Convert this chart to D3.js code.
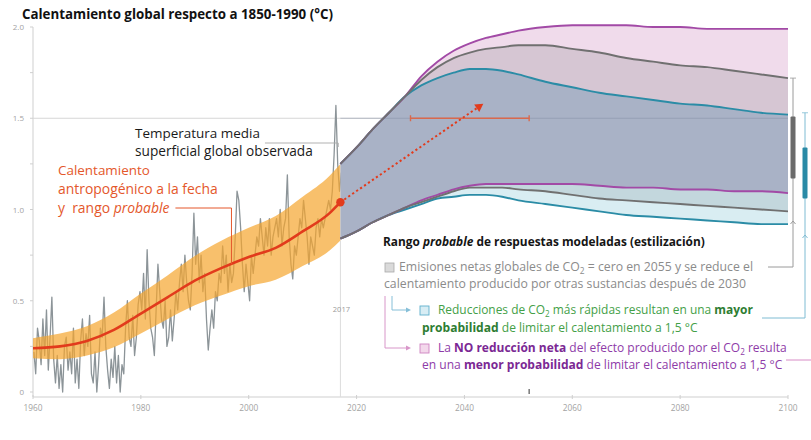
<!DOCTYPE html>
<html>
<head>
<meta charset="utf-8">
<script src="https://cdn.jsdelivr.net/npm/d3@7"></script>
<style>
  body { margin: 0; background: #fff; }
  svg { display: block; font-family: "Open Sans", Lato, sans-serif; }
</style>
</head>
<body>
<svg id="chart" width="811" height="440"></svg>
<script>
// ---- Observed global mean surface temperature (°C, relative to 1850-1900), 3 samples per year from 1960
const obsStart = 1960;
const obsPerYear = 3;
const observed = [
  0.22, 0.10, 0.35,  0.28, 0.15, 0.40,  0.20, 0.45, 0.12,  0.30, 0.52, 0.18,
  0.05, 0.20, 0.02,  0.15, 0.00, 0.25,  0.30, 0.12, 0.22,  0.10, 0.35, 0.05,
  0.18, 0.02, 0.28,  0.40, 0.20, 0.32,  0.25, 0.42, 0.10,  0.05, 0.22, 0.00,
  0.15, 0.35, 0.30,  0.52, 0.25, 0.12,  0.02, 0.18, 0.08,  0.25, 0.05, 0.20,
  0.00, 0.15, 0.10,  0.35, 0.50, 0.30,  0.25, 0.42, 0.20,  0.30, 0.48, 0.55,
  0.45, 0.65, 0.40,  0.78, 0.50, 0.35,  0.30, 0.20, 0.45,  0.70, 0.55, 0.40,
  0.35, 0.50, 0.25,  0.30, 0.45, 0.28,  0.40, 0.55, 0.45,  0.60, 0.70, 0.55,
  0.75, 0.60, 0.50,  0.45, 0.65, 0.98,  0.70, 0.85, 0.60,  0.75, 0.55, 0.65,
  0.40, 0.23, 0.35,  0.45, 0.35, 0.55,  0.50, 0.65, 0.60,  0.80, 0.65, 0.75,
  0.55, 0.70, 0.60,  0.65, 0.85, 1.10,  1.05, 0.90, 0.70,  0.55, 0.70, 0.60,
  0.50, 0.75, 0.65,  0.75, 0.85, 0.80,  0.95, 0.85, 0.75,  0.90, 0.80, 0.95,
  0.75, 0.85, 0.90,  0.95, 0.85, 1.00,  0.80, 0.90, 0.95,  1.19, 0.85, 0.70,
  0.62, 0.80, 0.75,  0.85, 0.95, 0.90,  1.05, 0.95, 0.85,  0.70, 0.85, 0.80,
  0.75, 0.90, 0.95,  0.85, 0.95, 0.90,  0.95, 1.00, 1.05,  1.00, 1.10, 1.30,
  1.57, 1.25, 1.10,  1.20, 1.10, 1.15
];

// ---- Human-induced warming to date and its likely range
const warmYears = [1960, 1965, 1970, 1975, 1980, 1985, 1990, 1995, 2000, 2005, 2010, 2015, 2017];
const warmMid   = [0.24, 0.25, 0.28, 0.34, 0.43, 0.52, 0.61, 0.68, 0.74, 0.79, 0.88, 0.98, 1.04];
const warmLow   = [0.185, 0.18, 0.20, 0.245, 0.32, 0.40, 0.475, 0.53, 0.58, 0.615, 0.69, 0.775, 0.83];
const warmHigh  = [0.295, 0.32, 0.36, 0.435, 0.54, 0.64, 0.745, 0.83, 0.90, 0.965, 1.07, 1.185, 1.25];

// ---- Stylised likely ranges of modelled responses
const fanYears     = [2017, 2020, 2023, 2026, 2029, 2032, 2035, 2038, 2041, 2044, 2047, 2050, 2055, 2060, 2065, 2070, 2075, 2080, 2085, 2090, 2095, 2100];
const purpleTop    = [1.25, 1.34, 1.44, 1.53, 1.62, 1.73, 1.81, 1.87, 1.91, 1.94, 1.96, 1.98, 2.00, 2.01, 2.01, 2.01, 2.00, 2.00, 1.99, 1.99, 1.99, 1.99];
const grayTop      = [1.25, 1.34, 1.44, 1.53, 1.62, 1.71, 1.78, 1.83, 1.86, 1.88, 1.89, 1.90, 1.90, 1.88, 1.86, 1.83, 1.81, 1.79, 1.78, 1.76, 1.74, 1.72];
const tealTop      = [1.25, 1.34, 1.44, 1.53, 1.62, 1.68, 1.72, 1.75, 1.77, 1.77, 1.76, 1.74, 1.70, 1.67, 1.64, 1.62, 1.60, 1.58, 1.57, 1.55, 1.53, 1.52];
const purpleBottom = [0.84, 0.88, 0.93, 0.97, 1.01, 1.05, 1.08, 1.11, 1.13, 1.14, 1.14, 1.14, 1.14, 1.14, 1.13, 1.12, 1.12, 1.11, 1.11, 1.10, 1.10, 1.09];
const grayBottom   = [0.84, 0.88, 0.93, 0.97, 1.01, 1.04, 1.07, 1.10, 1.12, 1.12, 1.12, 1.11, 1.10, 1.08, 1.06, 1.05, 1.04, 1.03, 1.02, 1.01, 1.00, 0.99];
const tealBottom   = [0.84, 0.88, 0.93, 0.97, 1.00, 1.03, 1.06, 1.07, 1.08, 1.08, 1.07, 1.05, 1.03, 1.01, 0.99, 0.97, 0.96, 0.95, 0.94, 0.93, 0.92, 0.92];

// ---- 2100 ranges shown beside the fan
const grayRange2100     = [0.99, 1.72];
const grayCoreRange2100 = [1.17, 1.51];
const tealRange2100     = [0.92, 1.53];
const tealCoreRange2100 = [1.06, 1.34];

// ---- Projection of the current trend and the 1.5 °C crossing window
const presentYear    = 2017;
const presentValue   = 1.04;
const trendEnd       = [2043.5, 1.58];
const crossingYears  = [2030, 2052];
const crossingLevel  = 1.5;

// ---- Axes
const xTicks = [1960, 1980, 2000, 2020, 2040, 2060, 2080, 2100];
const yTicks = [0, 0.5, 1.0, 1.5, 2.0];
const yMinorTicks = [0.25, 0.75, 1.25, 1.75];

// ================================================================
const svg = d3.select("#chart");
const x = d3.scaleLinear().domain([1960, 2100]).range([33, 788]);
const y = d3.scaleLinear().domain([0, 2]).range([392, 27]);
const axisY = 397;

const C = {
  axis: "#cfcfcf", tick: "#a3a3a3",
  obs: "#8c9498", band: "#f5a52e", red: "#e23b1c",
  purple: "#a24aa6", gray: "#707070", teal: "#2b8ca6",
  rPurple: "#f0dbeb", rPurpleGray: "#d6c6d3", rAll: "#a9b2c6",
  rGrayTeal: "#c3d7dd", rTeal: "#d9edf2",
  orangeText: "#e4572b", greenText: "#43a047", greenBold: "#2e7d32",
  purpleText: "#8e3ba8", purpleBold: "#7b2894", legendGray: "#8b8b8b"
};

// scale a text's font size so that it spans the given width
function fit(sel, width) {
  const w = sel.node().getComputedTextLength();
  sel.attr("font-size", +sel.attr("font-size") * width / w);
  return sel;
}

// ---- axes
const gAxes = svg.append("g");
gAxes.append("line").attr("x1", x(1960)).attr("x2", x(1960))
  .attr("y1", y(2)).attr("y2", axisY).attr("stroke", C.axis);
gAxes.append("line").attr("x1", x(1960)).attr("x2", x(2100))
  .attr("y1", axisY).attr("y2", axisY).attr("stroke", C.axis);

gAxes.selectAll(".ymaj").data(yTicks.concat(yMinorTicks)).join("line")
  .attr("x1", x(1960) - 3).attr("x2", x(1960))
  .attr("y1", d => y(d)).attr("y2", d => y(d)).attr("stroke", C.axis);
gAxes.selectAll(".ylab").data(yTicks).join("text")
  .attr("x", 24).attr("y", d => y(d) + 3).attr("text-anchor", "end")
  .attr("font-size", 8).attr("fill", C.tick)
  .text(d => d === 0 ? "0" : d.toFixed(1));

gAxes.selectAll(".xt").data(xTicks).join("line")
  .attr("x1", d => x(d)).attr("x2", d => x(d))
  .attr("y1", axisY - 2).attr("y2", axisY + 2).attr("stroke", C.axis);
gAxes.selectAll(".xlab").data(xTicks).join("text")
  .attr("x", d => x(d)).attr("y", axisY + 14).attr("text-anchor", "middle")
  .attr("font-size", 8.3).attr("fill", C.tick).text(d => d);

// 1.5 °C reference line (under the observations)
svg.append("line").attr("x1", x(1960)).attr("x2", x(2100))
  .attr("y1", y(crossingLevel)).attr("y2", y(crossingLevel))
  .attr("stroke", "#d6d6d6").attr("stroke-width", 1);

// present-day marker line
svg.append("line").attr("x1", x(presentYear)).attr("x2", x(presentYear))
  .attr("y1", y(0.83)).attr("y2", axisY).attr("stroke", "#dcdcdc");
svg.append("text").attr("x", x(presentYear) + 1).attr("y", 312)
  .attr("text-anchor", "middle").attr("font-size", 7.5).attr("fill", "#9a9a9a").text(presentYear);

// ---- observed temperature
const obsLine = d3.line()
  .x((d, i) => x(obsStart + (i + 0.5) / obsPerYear))
  .y(d => y(d));
svg.append("path").datum(observed).attr("d", obsLine)
  .attr("fill", "none").attr("stroke", C.obs).attr("stroke-width", 1.3)
  .attr("stroke-linejoin", "round");

// ---- human-induced warming band and central estimate
const warmIdx = d3.range(warmYears.length);
svg.append("path").datum(warmIdx)
  .attr("d", d3.area().curve(d3.curveMonotoneX)
    .x(i => x(warmYears[i])).y0(i => y(warmLow[i])).y1(i => y(warmHigh[i])))
  .attr("fill", C.band).attr("fill-opacity", 0.7);
svg.append("path").datum(warmIdx)
  .attr("d", d3.line().curve(d3.curveMonotoneX)
    .x(i => x(warmYears[i])).y(i => y(warmMid[i])))
  .attr("fill", "none").attr("stroke", C.red).attr("stroke-width", 2.6);

// ---- modelled response fan
const fanIdx = d3.range(fanYears.length);
const band = (lo, hi) => d3.area().curve(d3.curveMonotoneX)
  .x(i => x(fanYears[i])).y0(i => y(lo[i])).y1(i => y(hi[i]));
const regions = [
  [grayTop, purpleTop, C.rPurple],
  [tealTop, grayTop, C.rPurpleGray],
  [purpleBottom, tealTop, C.rAll],
  [grayBottom, purpleBottom, C.rGrayTeal],
  [tealBottom, grayBottom, C.rTeal]
];
regions.forEach(([lo, hi, col]) => {
  svg.append("path").datum(fanIdx).attr("d", band(lo, hi)).attr("fill", col);
});

// 1.5 °C line seen through the fan
svg.append("line").attr("x1", x(2017)).attr("x2", x(2100))
  .attr("y1", y(crossingLevel)).attr("y2", y(crossingLevel))
  .attr("stroke", "#7d8aa0").attr("stroke-opacity", 0.45).attr("stroke-width", 1);

const edge = arr => d3.line().curve(d3.curveMonotoneX)
  .x(i => x(fanYears[i])).y(i => y(arr[i]));
[[tealTop, C.teal], [tealBottom, C.teal],
 [purpleTop, C.purple], [purpleBottom, C.purple],
 [grayTop, C.gray], [grayBottom, C.gray]].forEach(([arr, col]) => {
  svg.append("path").datum(fanIdx).attr("d", edge(arr))
    .attr("fill", "none").attr("stroke", col).attr("stroke-width", 1.9);
});

// ---- 1.5 °C crossing window
const cw = svg.append("g").attr("stroke", "#d9694d").attr("stroke-width", 1.4);
cw.append("line").attr("x1", x(crossingYears[0])).attr("x2", x(crossingYears[1]))
  .attr("y1", y(crossingLevel)).attr("y2", y(crossingLevel));
crossingYears.forEach(yr => cw.append("line")
  .attr("x1", x(yr)).attr("x2", x(yr))
  .attr("y1", y(crossingLevel) - 3).attr("y2", y(crossingLevel) + 3));
svg.append("line").attr("x1", x(crossingYears[1])).attr("x2", x(crossingYears[1]))
  .attr("y1", axisY - 8).attr("y2", axisY - 3).attr("stroke", "#555").attr("stroke-width", 1.2);

// ---- trend projection (dotted arrow)
const p0 = [x(presentYear), y(presentValue)];
const p1 = [x(trendEnd[0]), y(trendEnd[1])];
const ang = Math.atan2(p1[1] - p0[1], p1[0] - p0[0]);
const back = [p1[0] - 7 * Math.cos(ang), p1[1] - 7 * Math.sin(ang)];
svg.append("line").attr("x1", p0[0]).attr("y1", p0[1]).attr("x2", back[0]).attr("y2", back[1])
  .attr("stroke", C.red).attr("stroke-width", 2).attr("stroke-dasharray", "2.2,2.6");
const ah = 8, aw = 4.5;
const tri = [
  p1,
  [p1[0] - ah * Math.cos(ang) + aw * Math.sin(ang), p1[1] - ah * Math.sin(ang) - aw * Math.cos(ang)],
  [p1[0] - ah * Math.cos(ang) - aw * Math.sin(ang), p1[1] - ah * Math.sin(ang) + aw * Math.cos(ang)]
];
svg.append("path").attr("d", "M" + tri.map(p => p.join(",")).join("L") + "Z").attr("fill", C.red);
svg.append("circle").attr("cx", p0[0]).attr("cy", p0[1]).attr("r", 4.2).attr("fill", C.red);

// ---- 2100 ranges and connectors to the legend
function sideRange(xPos, full, core, lineCol, barCol, chevronY, joinY, joinX) {
  const g = svg.append("g");
  g.append("line").attr("x1", xPos - 3).attr("x2", xPos + 3)
    .attr("y1", y(full[1])).attr("y2", y(full[1])).attr("stroke", lineCol).attr("stroke-width", 0.8);
  g.append("path").attr("d", `M${xPos},${y(full[1])}V${joinY}H${joinX}`)
    .attr("fill", "none").attr("stroke", lineCol).attr("stroke-width", 1);
  g.append("path").attr("d", `M${xPos - 2.5},${chevronY + 2}L${xPos},${chevronY - 1}L${xPos + 2.5},${chevronY + 2}`)
    .attr("fill", "none").attr("stroke", lineCol).attr("stroke-width", 1);
  g.append("rect").attr("x", xPos - 2.5).attr("width", 5)
    .attr("y", y(core[1])).attr("height", y(core[0]) - y(core[1]))
    .attr("fill", barCol).attr("rx", 1);
}
sideRange(793, grayRange2100, grayCoreRange2100, "#9a9a9a", "#6b6b6b", 222, 267, 768);
sideRange(805, tealRange2100, tealCoreRange2100, "#7fbcd3", "#2a8aa6", 236, 318, 762);
svg.append("line").attr("x1", 786).attr("x2", 811).attr("y1", 360).attr("y2", 360)
  .attr("stroke", "#d88cc6").attr("stroke-width", 1);

// ---- text helpers
function rich(xp, yp, segs, size, color) {
  const t = svg.append("text").attr("x", xp).attr("y", yp)
    .attr("font-size", size).attr("fill", color);
  let lowered = false;
  segs.forEach(s => {
    const ts = t.append("tspan").text(s.t);
    if (s.b) ts.attr("font-weight", 700);
    if (s.i) ts.attr("font-style", "italic");
    if (s.c) ts.attr("fill", s.c);
    if (s.sub) { ts.attr("font-size", "68%").attr("dy", 3); lowered = true; }
    else if (lowered) { ts.attr("dy", -3); lowered = false; }
  });
  return t;
}

// title
fit(svg.append("text").attr("x", 22).attr("y", 19).attr("font-size", 12.5)
  .attr("font-weight", 700).attr("fill", "#111")
  .text("Calentamiento global respecto a 1850-1990 (°C)"), 311);

// observed label and leader
const tm1 = fit(svg.append("text").attr("x", 135).attr("y", 138).attr("font-size", 12).attr("fill", "#1a1a1a")
  .text("Temperatura media"), 125);
fit(svg.append("text").attr("x", 135).attr("y", 156).attr("font-size", 12).attr("fill", "#1a1a1a")
  .text("superficial global observada"), 178);
svg.append("path").attr("d", `M${135 + tm1.node().getComputedTextLength() + 5},143H${x(2016.6)}V147`)
  .attr("fill", "none").attr("stroke", "#a8a8a8").attr("stroke-width", 0.9);

// human-induced warming label and leader
fit(svg.append("text").attr("x", 58).attr("y", 175).attr("font-size", 12).attr("fill", C.orangeText)
  .text("Calentamiento"), 92);
const lab2 = fit(svg.append("text").attr("x", 58).attr("y", 194).attr("font-size", 12).attr("fill", C.orangeText)
  .text("antropogénico a la fecha"), 160);
const lab3 = rich(58, 213, [{ t: "y  rango " }, { t: "probable", i: true }], +lab2.attr("font-size"), C.orangeText)
  .style("white-space", "pre");
const l3end = 58 + lab3.node().getComputedTextLength();
svg.append("path").attr("d", `M${l3end + 6},208H${x(1996.8)}V${y(0.70)}`)
  .attr("fill", "none").attr("stroke", C.orangeText).attr("stroke-width", 1);

// ---- legend
fit(rich(383, 246, [{ t: "Rango " }, { t: "probable", i: true }, { t: " de respuestas modeladas (estilización)" }], 11, "#151515")
  .attr("font-weight", 700), 322);

svg.append("rect").attr("x", 385).attr("y", 263).attr("width", 9).attr("height", 9)
  .attr("fill", "#dadada").attr("stroke", "#a9a9a9").attr("stroke-width", 0.8);
fit(rich(399, 271, [{ t: "Emisiones netas globales de CO" }, { t: "2", sub: true }, { t: " = cero en 2055 y se reduce el" }], 11, C.legendGray), 354);
fit(rich(384, 288, [{ t: "calentamiento producido por otras sustancias después de 2030" }], 11, C.legendGray), 362);

// arrows from the first entry to the alternatives
svg.append("path").attr("d", "M392,296V310H406").attr("fill", "none").attr("stroke", "#86bfd8").attr("stroke-width", 1);
svg.append("path").attr("d", "M406,307.5L411,310L406,312.5Z").attr("fill", "#86bfd8");
svg.append("path").attr("d", "M385,296V348H406").attr("fill", "none").attr("stroke", "#d896c9").attr("stroke-width", 1);
svg.append("path").attr("d", "M406,345.5L411,348L406,350.5Z").attr("fill", "#d896c9");

svg.append("rect").attr("x", 420).attr("y", 306).attr("width", 9).attr("height", 9)
  .attr("fill", "#d8edf4").attr("stroke", "#5fb0cc").attr("stroke-width", 0.9);
fit(rich(438, 314, [{ t: "Reducciones de CO" }, { t: "2", sub: true }, { t: " más rápidas resultan en una " },
  { t: "mayor", b: true, c: C.greenBold }], 11, C.greenText), 315);
fit(rich(422, 332, [{ t: "probabilidad", b: true, c: C.greenBold }, { t: " de limitar el calentamiento a 1,5 °C" }], 11, C.greenText), 276);

svg.append("rect").attr("x", 420).attr("y", 344).attr("width", 9).attr("height", 9)
  .attr("fill", "#f3d8eb").attr("stroke", "#cf84c1").attr("stroke-width", 0.9);
fit(rich(438, 352, [{ t: "La " }, { t: "NO reducción neta", b: true, c: C.purpleBold },
  { t: " del efecto producido por el CO" }, { t: "2", sub: true }, { t: " resulta" }], 11, C.purpleText), 349);
fit(rich(422, 369, [{ t: "en una " }, { t: "menor probabilidad", b: true, c: C.purpleBold },
  { t: " de limitar el calentamiento a 1,5 °C" }], 11, C.purpleText), 361);
</script>
</body>
</html>
